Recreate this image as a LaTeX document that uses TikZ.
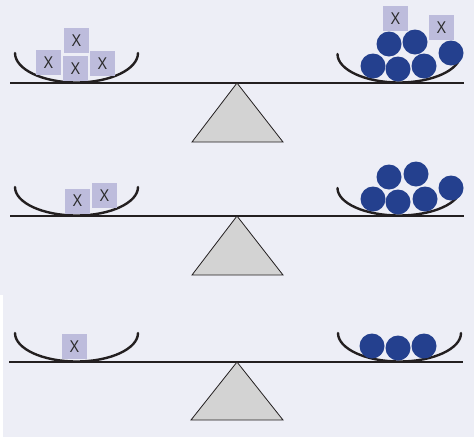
\documentclass[tikz,border=0pt]{standalone}
\usepackage{fontspec}
\setmainfont{Liberation Sans}
\newfontfamily\markfont[FakeStretch=0.85]{Liberation Sans}
\definecolor{bgc}{HTML}{EDEEF6}
\definecolor{linec}{HTML}{231F20}
\definecolor{boxc}{HTML}{BDBCDC}
\definecolor{ballc}{HTML}{24408E}
\definecolor{fulc}{HTML}{D3D3D3}
\definecolor{textc}{HTML}{2B2B2B}
% half-ellipse pan: centre x, rim y, bottom y
\newcommand\drawpan[3]{%
  \draw[pan] (#1-61.5,#2) .. controls +(0,{0.552*(#3-#2)}) and +(-34,0) .. (#1,#3)
             .. controls +(34,0) and +(0,{0.552*(#3-#2)}) .. (#1+61.5,#2);}
\begin{document}
\begin{tikzpicture}[x=1pt,y=-1pt,
  beam/.style={draw=linec, line width=1.2pt},
  pan/.style={draw=linec, line width=2.4pt, line cap=round},
  fulcrum/.style={fill=fulc, draw=linec, line width=0.8pt, line join=miter},
  weight/.style={rectangle, fill=boxc, minimum size=25pt, inner sep=0pt,
                 text=textc, font=\markfont\fontsize{17}{17}\selectfont},
  ball/.style={circle, fill=ballc, minimum size=25pt, inner sep=0pt}]
\useasboundingbox (0,0) rectangle (474,437);
\fill[bgc] (0,0) rectangle (474,437);
\fill[white] (0,295) rectangle (3,437);

% ---------- scale 1 ----------
\coordinate (b1l) at (10,83);
\coordinate (b1r) at (464,83);
\coordinate (a1) at (237,83);
\coordinate (f1l) at (192,142);
\coordinate (f1r) at (283,142);
\draw[beam] (b1l) -- (b1r);
\draw[fulcrum] (a1) -- (f1r) -- (f1l) -- cycle;
\drawpan{76.5}{53}{82.5}
\drawpan{399}{54}{82.5}
\node[weight] (w1a) at (76.5,40.5) {X};
\node[weight] (w1b) at (48.5,62.5) {X};
\node[weight] (w1c) at (75.5,68.5) {X};
\node[weight] (w1d) at (102.5,63.5) {X};
\node[weight] (w1e) at (395.5,18.5) {X};
\node[weight] (w1f) at (441.5,27.5) {X};
\node[ball] (c1a) at (373,66) {};
\node[ball] (c1b) at (398,69) {};
\node[ball] (c1c) at (424,66) {};
\node[ball] (c1d) at (389,44) {};
\node[ball] (c1e) at (415,42) {};
\node[ball] (c1f) at (451,53) {};

% ---------- scale 2 ----------
\coordinate (b2l) at (10,216);
\coordinate (b2r) at (464,216);
\coordinate (a2) at (237,216);
\coordinate (f2l) at (192,275);
\coordinate (f2r) at (283,275);
\draw[beam] (b2l) -- (b2r);
\draw[fulcrum] (a2) -- (f2r) -- (f2l) -- cycle;
\drawpan{76.5}{187}{215.5}
\drawpan{399}{188}{215.5}
\node[weight] (w2a) at (77.5,201) {X};
\node[weight] (w2b) at (104.5,195.5) {X};
\node[ball] (c2a) at (373,199) {};
\node[ball] (c2b) at (398,202) {};
\node[ball] (c2c) at (425,199) {};
\node[ball] (c2d) at (389,177) {};
\node[ball] (c2e) at (416,174) {};
\node[ball] (c2f) at (451,188) {};

% ---------- scale 3 ----------
\coordinate (b3l) at (9,362);
\coordinate (b3r) at (463,362);
\coordinate (a3) at (237,362);
\coordinate (f3l) at (191,420);
\coordinate (f3r) at (283,420);
\draw[beam] (b3l) -- (b3r);
\draw[fulcrum] (a3) -- (f3r) -- (f3l) -- cycle;
\drawpan{76.5}{333}{361.5}
\drawpan{399.5}{333}{361.5}
\node[weight] (w3a) at (74.5,346.5) {X};
\node[ball] (c3a) at (372,346) {};
\node[ball] (c3b) at (398,348) {};
\node[ball] (c3c) at (424,346) {};
\end{tikzpicture}
\end{document}
